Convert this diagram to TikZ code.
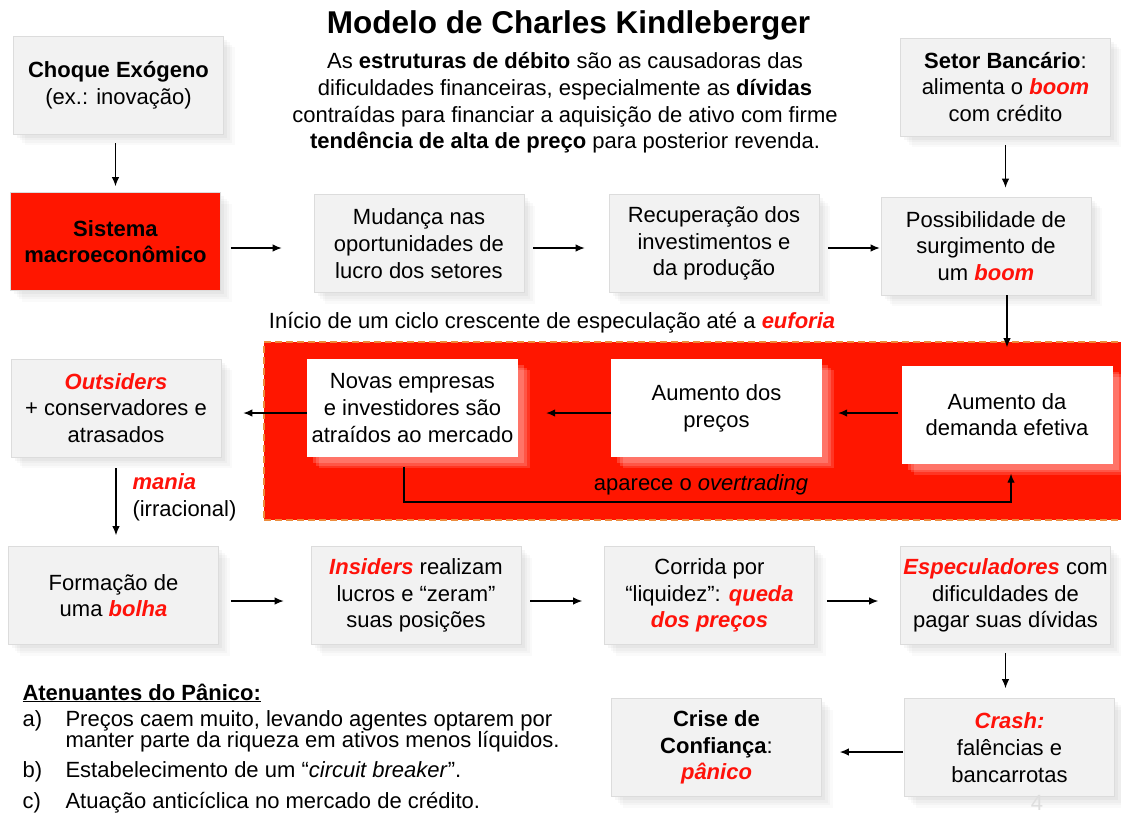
\documentclass[tikz,border=0pt]{standalone}
\usepackage{fontspec}
\setmainfont{Liberation Sans}
\usetikzlibrary{arrows.meta,shadows}
\definecolor{kred}{RGB}{255,22,0}
\definecolor{tred}{RGB}{255,18,10}
\definecolor{boxfill}{RGB}{242,242,242}
\definecolor{boxline}{RGB}{220,220,220}
\definecolor{zoneline}{RGB}{236,140,60}
\newcommand{\redbi}[1]{\textcolor{tred}{\bfseries\itshape #1}}
\begin{document}
\begin{tikzpicture}[x=1pt,y=-1pt,
  every node/.style={font=\fontsize{22}{26.7}\selectfont, align=center},
  softshadow/.style={general shadow={fill=black, opacity=0.018, shadow xshift=11pt, shadow yshift=-11pt},
                     general shadow={fill=black, opacity=0.022, shadow xshift=8.5pt, shadow yshift=-8.5pt},
                     general shadow={fill=black, opacity=0.025, shadow xshift=6pt, shadow yshift=-6pt},
                     general shadow={fill=black, opacity=0.03, shadow xshift=3.5pt, shadow yshift=-3.5pt}},
  whiteshadow/.style={general shadow={fill=white, opacity=0.14, shadow xshift=12pt, shadow yshift=-11pt},
                      general shadow={fill=white, opacity=0.16, shadow xshift=9pt, shadow yshift=-8.5pt},
                      general shadow={fill=white, opacity=0.18, shadow xshift=6pt, shadow yshift=-6pt}},
  graybox/.style={draw=boxline, line width=0.8pt, fill=boxfill, minimum width=210pt, minimum height=98pt, inner sep=0pt, softshadow},
  whitebox/.style={fill=white, draw=none, minimum width=211pt, minimum height=98pt, inner sep=0pt, whiteshadow},
  zone/.style={fill=kred, draw=zoneline, dash pattern=on 7pt off 4pt, line width=1.6pt, inner sep=0pt},
  arr/.style={-{Latex[length=9pt,width=7.5pt]}, line width=1.1pt}
]
\useasboundingbox (0,0) rectangle (1121,815);
\fill[white] (0,0) rectangle (1121,815);

% row references
\coordinate (r1) at (0,248);
\coordinate (r2) at (0,413);
\coordinate (r3) at (0,601);
\coordinate (r4) at (0,752);

% title and intro
\node[font=\fontsize{31.5}{36}\selectfont\bfseries] (title) at (568.5,25) {Modelo de Charles Kindleberger};
\node (intro) at (565,103) {As \textbf{estruturas de débito} são as causadoras das\\dificuldades financeiras, especialmente as \textbf{dívidas}\\contraídas para financiar a aquisição de ativo com firme\\\textbf{tendência de alta de preço} para posterior revenda.};

% top boxes
\node[graybox] (choque) at (118.5,85) {\textbf{Choque Exógeno}\\(ex.: inovação)};
\node[graybox] (setor) at (1005.5,87) {\textbf{Setor Bancário}:\\alimenta o \redbi{boom}\\com crédito};

% row 1
\node[graybox, fill=kred] (sistema) at (115.5,241.5) {\textbf{Sistema}\\\textbf{macroeconômico}};
\node[graybox] (mudanca) at (419,243.5) {Mudança nas\\oportunidades de\\lucro dos setores};
\node[graybox] (recup) at (714,243.5) {Recuperação dos\\investimentos e\\da produção};
\node[graybox] (possib) at (986,246) {Possibilidade de\\surgimento de\\um \redbi{boom}};

% euphoria zone
\node (ciclo) at (552,323) {Início de um ciclo crescente de especulação até a \redbi{euforia}};
\node[zone, minimum width=866pt, minimum height=178pt] (zona) at (697,431) {};
\node[whitebox] (novas) at (412.5,408) {Novas empresas\\e investidores são\\atraídos ao mercado};
\node[whitebox] (precos) at (716.5,408) {Aumento dos\\preços};
\node[whitebox] (demanda) at (1007,414.5) {Aumento da\\demanda efetiva};
\node[graybox] (outsiders) at (116,408) {\redbi{Outsiders}\\+ conservadores e\\atrasados};
\node (overt) at (701,485) {aparece o \textit{overtrading}};
\node[anchor=west, align=left] (mania) at (129,497) {\redbi{mania}\\(irracional)};

% row 3
\node[graybox] (formacao) at (113.5,595.5) {Formação de\\uma \redbi{bolha}};
\node[graybox] (insiders) at (416,595.5) {\redbi{Insiders} realizam\\lucros e “zeram”\\suas posições};
\node[graybox] (corrida) at (709.5,595.5) {Corrida por\\“liquidez”: \redbi{queda}\\\redbi{dos preços}};
\node[graybox] (espec) at (1005.5,595.5) {\redbi{Especuladores} com\\dificuldades de\\pagar suas dívidas};

% row 4
\node[graybox] (crise) at (716.5,747.5) {\textbf{Crise de}\\\textbf{Confiança}:\\\redbi{pânico}};
\node[graybox] (crash) at (1009.5,747.5) {\redbi{Crash:}\\falências e\\bancarrotas};

% attenuating factors
\node[anchor=base west] (aten) at (19,700) {\underline{\textbf{Atenuantes do Pânico:}}};
\node[anchor=base west] (la) at (19,726) {a)};
\node[anchor=base west, align=left, font=\fontsize{22}{21}\selectfont] (ta) at (62,747) {Preços caem muito, levando agentes optarem por\\manter parte da riqueza em ativos menos líquidos.};
\node[anchor=base west] (lb) at (19,777) {b)};
\node[anchor=base west] (tb) at (62,777) {Estabelecimento de um “\textit{circuit breaker}”.};
\node[anchor=base west] (lc) at (19,808) {c)};
\node[anchor=base west] (tc) at (62,808) {Atuação anticíclica no mercado de crédito.};

\node[text=black!13] (pg) at (1037,803) {4};

% connectors
\draw[arr, shorten <=9pt, shorten >=6pt] (choque.south -| sistema.north) -- (sistema.north);
\draw[arr, shorten <=9pt, shorten >=9pt] (setor.south) -- (setor.south |- possib.north);
\draw[arr, shorten <=10pt, shorten >=32pt] (sistema.east |- r1) -- (mudanca.west |- r1);
\draw[arr, shorten <=9pt, shorten >=24pt] (mudanca.east |- r1) -- (recup.west |- r1);
\draw[arr, shorten <=9pt, shorten >=1pt] (recup.east |- r1) -- (possib.west |- r1);
\draw[arr, shorten >=-6pt] (possib.south -| demanda.north) -- (zona.north -| demanda.north);
\draw[arr, shorten <=3pt, shorten >=16pt] (demanda.west |- r2) -- (precos.east |- r2);
\draw[arr, shorten >=28pt] (precos.west |- r2) -- (novas.east |- r2);
\draw[arr, shorten >=22pt] (novas.west |- r2) -- (outsiders.east |- r2);
\coordinate (lpA) at ([xshift=-8.5pt]novas.south);
\coordinate (lpB) at ([xshift=4pt]demanda.south);
\coordinate (lpy) at (0,502);
\draw[arr, shorten <=10pt, shorten >=10pt] (lpA) -- (lpA |- lpy) -- (lpB |- lpy) -- (lpB);
\draw[arr, shorten <=11pt, shorten >=11pt] (outsiders.south) -- (outsiders.south |- formacao.north);
\draw[arr, shorten <=12pt, shorten >=27pt] (formacao.east |- r3) -- (insiders.west |- r3);
\draw[arr, shorten <=9pt, shorten >=22pt] (insiders.east |- r3) -- (corrida.west |- r3);
\draw[arr, shorten <=12pt, shorten >=22pt] (corrida.east |- r3) -- (espec.west |- r3);
\draw[arr, shorten <=8pt, shorten >=10pt] (espec.south) -- (espec.south |- crash.north);
\draw[arr, shorten <=1pt, shorten >=18pt] (crash.west |- r4) -- (crise.east |- r4);
\end{tikzpicture}
\end{document}
